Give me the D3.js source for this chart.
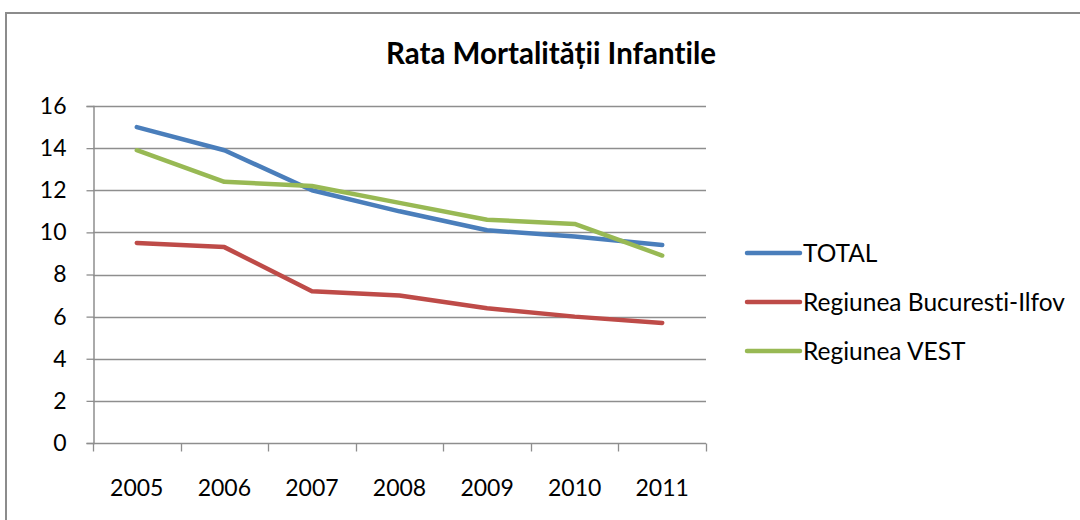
<!DOCTYPE html>
<html>
<head>
<meta charset="utf-8">
<script src="https://cdn.jsdelivr.net/npm/d3@7"></script>
<style>
  html, body { margin: 0; padding: 0; background: #fff; }
  svg { display: block; }
  text { font-family: Lato, "Open Sans", sans-serif; fill: #000; font-variant-ligatures: none; font-feature-settings: "liga" 0, "dlig" 0; }
</style>
</head>
<body>
<svg id="chart" width="1080" height="520"></svg>
<script>
const title = "Rata Mortalității Infantile";
const years = ["2005", "2006", "2007", "2008", "2009", "2010", "2011"];
const seriesNames = ["TOTAL", "Regiunea Bucuresti-Ilfov", "Regiunea VEST"];
const totalValues = [15.0, 13.9, 12.0, 11.0, 10.1, 9.8, 9.4];
const bucurestiValues = [9.5, 9.3, 7.2, 7.0, 6.4, 6.0, 5.7];
const vestValues = [13.9, 12.4, 12.2, 11.4, 10.6, 10.4, 8.9];
const yTicks = [0, 2, 4, 6, 8, 10, 12, 14, 16];
const seriesColors = ["#4A7EBB", "#BE4B48", "#98B954"];

const series = [totalValues, bucurestiValues, vestValues].map((values, i) => ({
  name: seriesNames[i], color: seriesColors[i], values
}));

const svg = d3.select("#chart");

// outer chart frame
svg.append("rect")
  .attr("x", 6).attr("y", 13).attr("width", 1090).attr("height", 520)
  .attr("fill", "#fff").attr("stroke", "#8c8c8c").attr("stroke-width", 2);

svg.append("text")
  .attr("x", 551).attr("y", 64)
  .attr("text-anchor", "middle")
  .attr("font-size", 29.5).attr("font-weight", "bold")
  .text(title);

const plotLeft = 93, plotRight = 706, plotTop = 106, plotBottom = 443;

const x = d3.scaleBand().domain(years).range([plotLeft, plotRight]);
const y = d3.scaleLinear().domain([0, 16]).range([plotBottom, plotTop]);

// horizontal gridlines
svg.append("g")
  .selectAll("line")
  .data(yTicks.filter(d => d > 0))
  .join("line")
  .attr("x1", plotLeft).attr("x2", plotRight)
  .attr("y1", d => Math.round(y(d)) + 0.5).attr("y2", d => Math.round(y(d)) + 0.5)
  .attr("stroke", "#8e8e8e").attr("stroke-width", 1.3);

// y axis
const yAxis = svg.append("g")
  .attr("transform", `translate(${plotLeft + 0.5},0)`)
  .call(d3.axisLeft(y).tickValues(yTicks).tickSize(7).tickPadding(20).tickFormat(d3.format("d")));
yAxis.select(".domain").attr("stroke", "#8e8e8e").attr("stroke-width", 1.5);
yAxis.selectAll(".tick line").attr("stroke", "#8e8e8e").attr("stroke-width", 1.3);
yAxis.selectAll(".tick text").attr("font-size", 23).attr("font-family", "Lato, sans-serif").attr("fill", "#000");

// x axis with ticks at category boundaries
const xAxis = svg.append("g")
  .attr("transform", `translate(0,${Math.round(plotBottom) + 0.5})`);
xAxis.append("line")
  .attr("x1", plotLeft).attr("x2", plotRight)
  .attr("stroke", "#8e8e8e").attr("stroke-width", 1.5);
const boundaries = years.map(d => x(d)).concat([x(years[years.length - 1]) + x.bandwidth()]);
xAxis.selectAll("line.tick")
  .data(boundaries)
  .join("line")
  .attr("class", "tick")
  .attr("x1", d => Math.round(d) + 0.5).attr("x2", d => Math.round(d) + 0.5)
  .attr("y1", 0).attr("y2", 8)
  .attr("stroke", "#8e8e8e").attr("stroke-width", 1.3);
xAxis.selectAll("text")
  .data(years)
  .join("text")
  .attr("x", d => x(d) + x.bandwidth() / 2)
  .attr("y", 52)
  .attr("text-anchor", "middle")
  .attr("font-size", 23)
  .text(d => d);

// series lines
const line = d3.line()
  .x((d, i) => x(years[i]) + x.bandwidth() / 2)
  .y(d => y(d));

svg.append("g")
  .selectAll("path")
  .data(series)
  .join("path")
  .attr("d", d => line(d.values))
  .attr("fill", "none")
  .attr("stroke", d => d.color)
  .attr("stroke-width", 4.5)
  .attr("stroke-linecap", "round")
  .attr("stroke-linejoin", "round");

// legend
const legendRows = [253, 302, 351];
const legend = svg.append("g")
  .selectAll("g")
  .data(series)
  .join("g")
  .attr("transform", (d, i) => `translate(747,${legendRows[i]})`);
legend.append("line")
  .attr("x1", 0).attr("x2", 53)
  .attr("stroke", d => d.color)
  .attr("stroke-width", 4.5)
  .attr("stroke-linecap", "round");
legend.append("text")
  .attr("x", 56).attr("y", 0)
  .attr("dy", "0.35em")
  .attr("font-size", 24.5)
  .text(d => d.name);
</script>
</body>
</html>
